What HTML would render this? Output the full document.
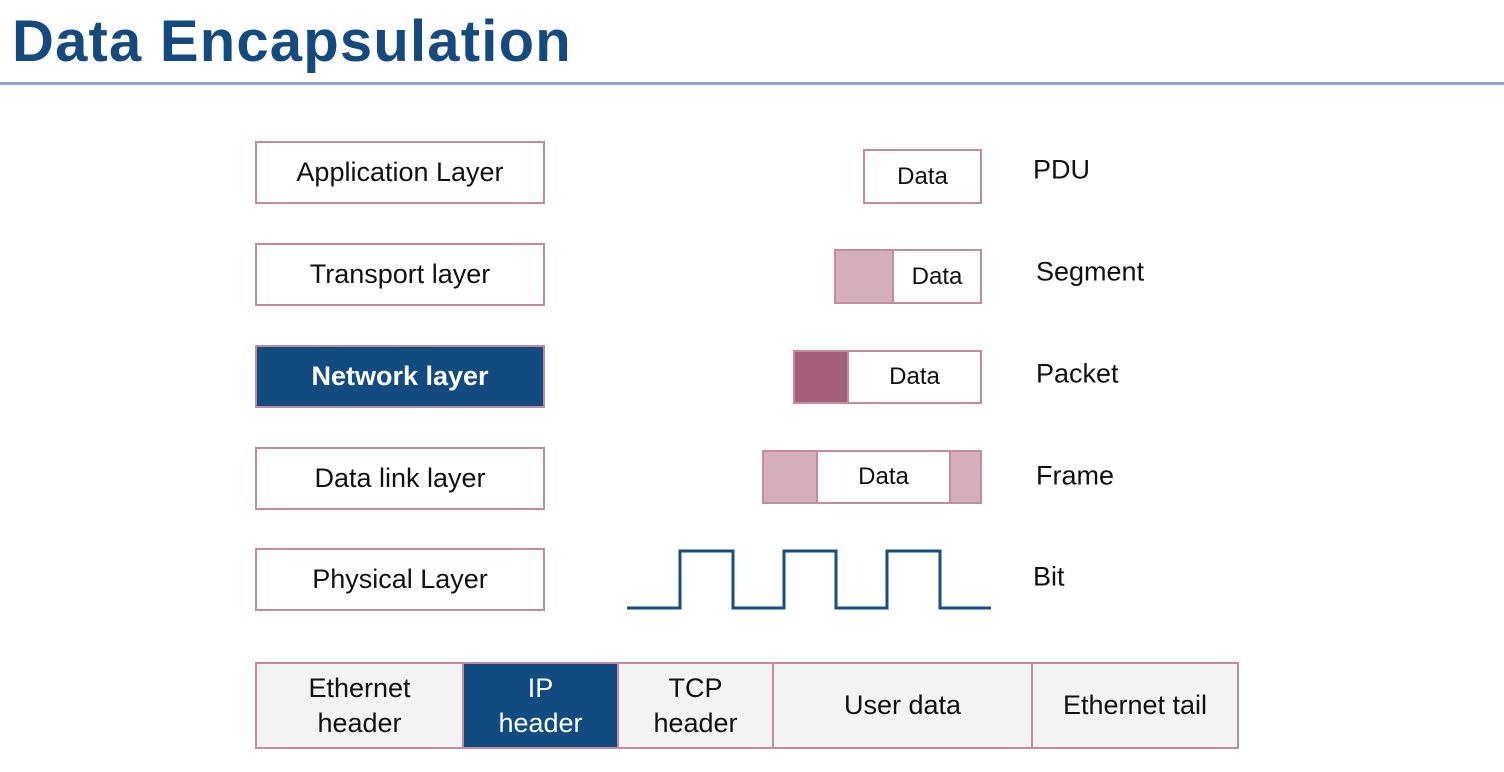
<!DOCTYPE html>
<html><head><style>
body{margin:0;width:1504px;height:772px;background:#fff;position:relative;font-family:"Liberation Sans","DejaVu Sans",sans-serif;overflow:hidden}
.a{position:absolute;box-sizing:border-box;display:flex;align-items:center;justify-content:center;text-align:center}
.l{border:2px solid #c48a9e;font-size:27px;color:#111;background:#fff}
.r{border:2px solid #c48a9e;font-size:24px;color:#111;background:#fff}
.p{background:#d4aebb}
.t{position:absolute;font-size:27px;color:#111;transform:translateY(-50%)}
.c{border:2px solid #c48a9e;background:#f3f3f3;font-size:27px;color:#111;line-height:35px}
</style></head><body>
<div style="position:absolute;left:12px;top:8px;font-size:58px;font-weight:bold;color:#154a7e;letter-spacing:1.2px">Data Encapsulation</div>
<div style="position:absolute;left:0;top:82px;width:1504px;height:3px;background:#8ea9c8"></div>

<div class="a l" style="left:255px;top:141px;width:290px;height:63px">Application Layer</div>
<div class="a l" style="left:255px;top:243px;width:290px;height:63px">Transport layer</div>
<div class="a l" style="left:255px;top:345px;width:290px;height:63px;background:#114b80;color:#fff;font-weight:bold">Network layer</div>
<div class="a l" style="left:255px;top:447px;width:290px;height:63px">Data link layer</div>
<div class="a l" style="left:255px;top:548px;width:290px;height:63px">Physical Layer</div>

<div class="a r" style="left:863px;top:149px;width:119px;height:55px">Data</div>
<div class="a r p" style="left:834px;top:249px;width:60px;height:55px"></div>
<div class="a r" style="left:892px;top:249px;width:90px;height:55px">Data</div>
<div class="a r" style="left:793px;top:350px;width:56px;height:54px;background:#a55f7a"></div>
<div class="a r" style="left:847px;top:350px;width:135px;height:54px">Data</div>
<div class="a r p" style="left:762px;top:450px;width:56px;height:54px"></div>
<div class="a r" style="left:816px;top:450px;width:135px;height:54px">Data</div>
<div class="a r p" style="left:949px;top:450px;width:33px;height:54px"></div>

<div class="t" style="left:1033px;top:170px">PDU</div>
<div class="t" style="left:1036px;top:272px">Segment</div>
<div class="t" style="left:1036px;top:374px">Packet</div>
<div class="t" style="left:1036px;top:476px">Frame</div>
<div class="t" style="left:1033px;top:577px">Bit</div>

<svg style="position:absolute;left:0;top:0" width="1504" height="772">
<polyline points="627,608 680,608 680,551 733,551 733,608 784,608 784,551 836,551 836,608 887,608 887,551 940,551 940,608 991,608" fill="none" stroke="#1a4e80" stroke-width="3"/>
</svg>

<div class="a c" style="left:255px;top:662px;width:209px;height:87px">Ethernet<br>header</div>
<div class="a c" style="left:462px;top:662px;width:157px;height:87px;background:#114b80;color:#fff">IP<br>header</div>
<div class="a c" style="left:617px;top:662px;width:157px;height:87px">TCP<br>header</div>
<div class="a c" style="left:772px;top:662px;width:261px;height:87px">User data</div>
<div class="a c" style="left:1031px;top:662px;width:208px;height:87px">Ethernet tail</div>
</body></html>
